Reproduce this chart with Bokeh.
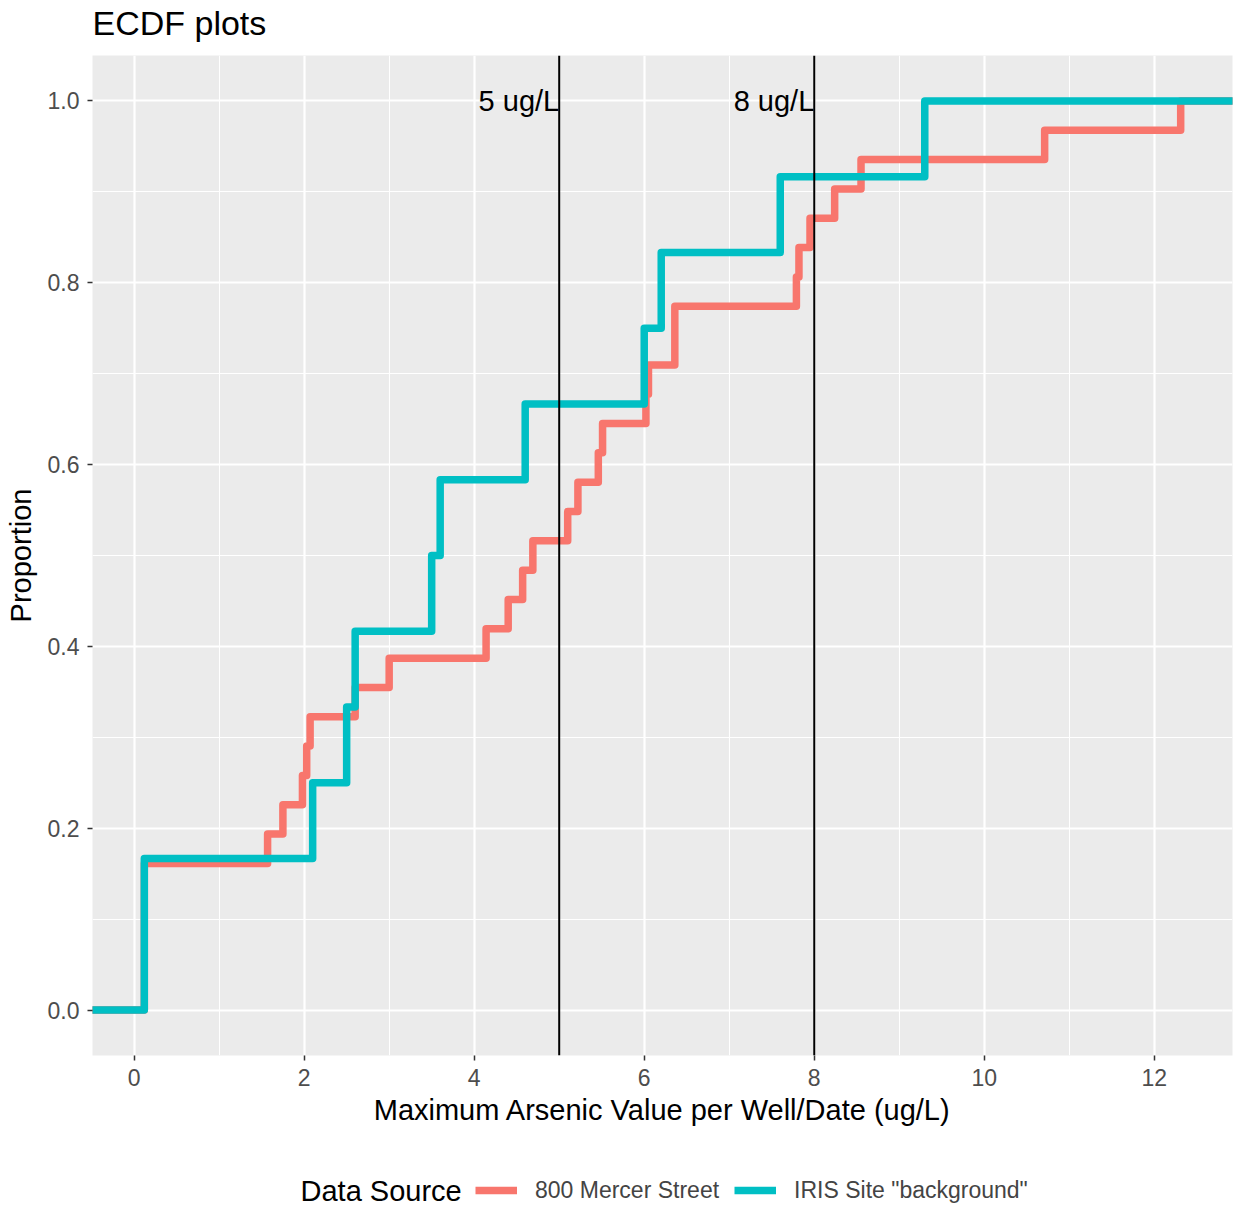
from bokeh.plotting import figure
from bokeh.layouts import column
from bokeh.models import Span, FixedTicker, Legend, LegendItem, Label, Range1d, ColumnDataSource
from bokeh.embed import file_html
from bokeh.resources import INLINE
from bokeh.core.properties import value

# ---------------- data ----------------
chart_title = "ECDF plots"
series_names = ["800 Mercer Street", 'IRIS Site "background"']
series_colors = ["#F8766D", "#00BFC4"]
legend_title = "Data Source"
mercer_values = [0.12, 0.12, 0.12, 0.12, 0.12, 1.57, 1.75, 1.98, 2.03, 2.07, 2.6, 3.0,
                 4.14, 4.4, 4.57, 4.69, 5.1, 5.22, 5.46, 5.51, 6.02, 6.05, 6.36, 6.36,
                 7.79, 7.82, 7.95, 8.24, 8.55, 10.71, 12.31]
iris_values = [0.12, 0.12, 2.1, 2.5, 2.6, 3.5, 3.6, 4.6, 6.0, 6.2, 7.6, 9.3]
limit_values = [5, 8]
limit_labels = ["5 ug/L", "8 ug/L"]
x_ticks = [0, 2, 4, 6, 8, 10, 12]
x_minor = [1, 3, 5, 7, 9, 11]
y_ticks = [0.0, 0.2, 0.4, 0.6, 0.8, 1.0]
y_tick_labels = ["0.0", "0.2", "0.4", "0.6", "0.8", "1.0"]
y_minor = [0.1, 0.3, 0.5, 0.7, 0.9]

FONT = "Liberation Sans"
W = 1236
TITLE_H = 55
LEG_H = 46
MAIN_H = 1206 - TITLE_H - LEG_H
LEFT, RIGHT = 92, 4
FRAME_W = W - LEFT - RIGHT

all_vals = mercer_values + iris_values
lo, hi = min(all_vals), max(all_vals)
pad = 0.05 * (hi - lo)
x_start, x_end = lo - pad, hi + pad
y_start, y_end = -0.05, 1.05


def ecdf_xy(vals):
    v = sorted(vals)
    n = len(v)
    xs = [x_start - 5] + v + [x_end + 5]
    ys = [0.0] + [(i + 1) / n for i in range(n)] + [1.0]
    return xs, ys


def blank_strip(h):
    f = figure(width=W, height=h, output_backend="svg", toolbar_location=None,
               x_range=Range1d(0, FRAME_W), y_range=Range1d(0, h),
               x_axis_location=None, y_axis_location=None, title=None,
               min_border_left=LEFT, min_border_right=RIGHT, min_border_top=0, min_border_bottom=0)
    f.grid.visible = False
    f.outline_line_color = None
    f.background_fill_color = "white"
    f.border_fill_color = "white"
    return f


# ---------------- title strip ----------------
tt = blank_strip(TITLE_H)
tt.add_layout(Label(x=0, y=TITLE_H - 22, text=chart_title, text_font=FONT, text_font_size="34px",
                    text_color="black", text_baseline="alphabetic", text_align="left"))

# ---------------- main panel ----------------
p = figure(width=W, height=MAIN_H, output_backend="svg", toolbar_location=None, title=None,
           x_range=Range1d(x_start, x_end), y_range=Range1d(y_start, y_end),
           min_border_left=LEFT, min_border_right=RIGHT, min_border_top=0, min_border_bottom=105)
p.background_fill_color = "#EBEBEB"
p.border_fill_color = "white"
p.outline_line_color = None

p.xgrid.ticker = FixedTicker(ticks=x_ticks, minor_ticks=x_minor)
p.ygrid.ticker = FixedTicker(ticks=y_ticks, minor_ticks=y_minor)
for g in (p.xgrid[0], p.ygrid[0]):
    g.grid_line_color = "white"
    g.grid_line_width = 2.2
    g.minor_grid_line_color = "white"
    g.minor_grid_line_width = 1.1

p.xaxis.ticker = FixedTicker(ticks=x_ticks)
p.yaxis.ticker = FixedTicker(ticks=y_ticks)
p.yaxis.major_label_overrides = {t: s for t, s in zip(y_ticks, y_tick_labels)}
p.xaxis.axis_label = "Maximum Arsenic Value per Well/Date (ug/L)"
p.yaxis.axis_label = "Proportion"
for ax in (p.xaxis[0], p.yaxis[0]):
    ax.axis_line_color = None
    ax.major_tick_line_color = "#333333"
    ax.major_tick_line_width = 1.5
    ax.major_tick_in = 0
    ax.major_tick_out = 5
    ax.minor_tick_line_color = None
    ax.major_label_text_font = FONT
    ax.major_label_text_font_size = "23px"
    ax.major_label_text_color = "#4D4D4D"
    ax.axis_label_text_font = FONT
    ax.axis_label_text_font_size = "29px"
    ax.axis_label_text_font_style = "normal"
    ax.axis_label_text_color = "black"
p.xaxis.major_label_standoff = 8
p.xaxis.axis_label_standoff = 5
p.yaxis.major_label_standoff = 8
p.yaxis.axis_label_standoff = 8

renderers = []
for vals, col in zip([mercer_values, iris_values], series_colors):
    xs, ys = ecdf_xy(vals)
    r = p.step(xs, ys, mode="after", line_color=col, line_width=7.5, line_join="round")
    renderers.append(r)

for v in limit_values:
    p.add_layout(Span(location=v, dimension="height", line_color="black", line_width=2))

src = ColumnDataSource(dict(x=limit_values, y=[1.0] * len(limit_values), t=limit_labels))
p.text(x="x", y="y", text="t", source=src, text_align="right", text_baseline="middle",
       text_font=value(FONT), text_font_size="29px", text_color="black")

# ---------------- legend strip (ggplot style, below the plot) ----------------
lg = blank_strip(LEG_H)
# off-screen stand-in renderers that only provide the legend key styling
key_renderers = []
for col in series_colors:
    key_renderers.append(lg.line(x=[-20, -10], y=[-20, -20], line_color=col, line_width=7.5))

legend = Legend(items=[LegendItem(label=n, renderers=[r]) for n, r in zip(series_names, key_renderers)],
                orientation="horizontal", location=(475 - LEFT, 1))
legend.label_text_font = FONT
legend.label_text_font_size = "23px"
legend.label_standoff = 18
legend.glyph_width = 42
legend.glyph_height = 30
legend.spacing = 15
legend.padding = 0
legend.margin = 0
legend.border_line_color = None
legend.background_fill_alpha = 0
lg.add_layout(legend)

lg.add_layout(Label(x=300 - LEFT, y=16, text=legend_title, text_font=FONT, text_font_size="29px",
                    text_color="black", text_baseline="middle", text_align="left"))

layout = column(tt, p, lg, spacing=0)
open("out.html", "w").write(file_html(layout, INLINE))
